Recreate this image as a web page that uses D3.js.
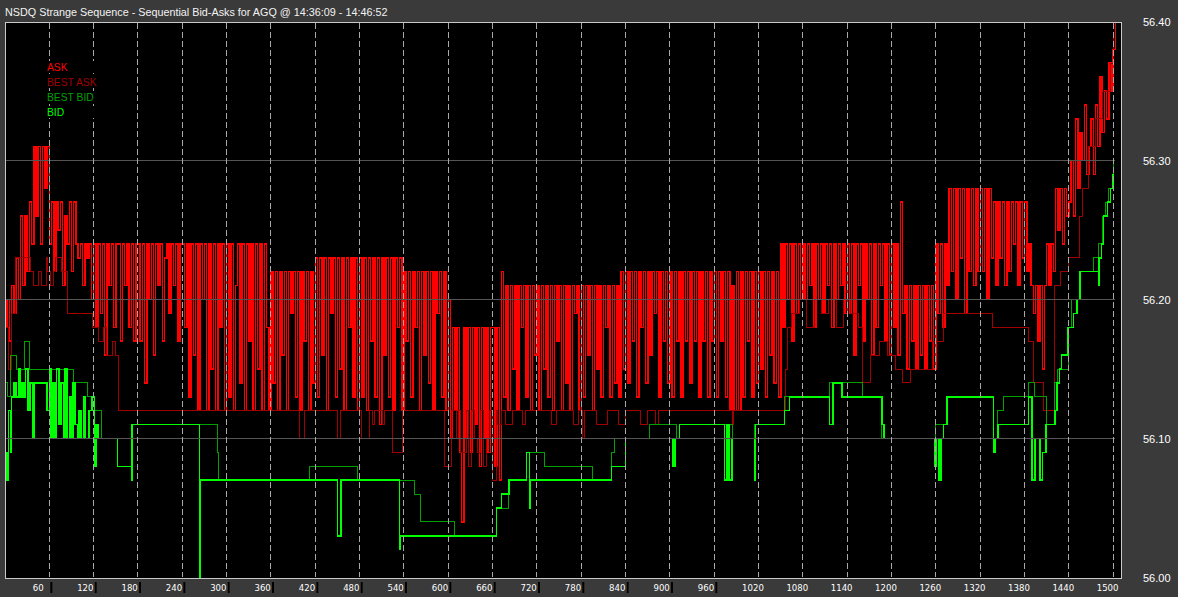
<!DOCTYPE html>
<html><head><meta charset="utf-8">
<script src="https://cdn.jsdelivr.net/npm/d3@7"></script>
<style>
html,body{margin:0;padding:0;background:#3a3a3a;overflow:hidden;}
svg{display:block;}
</style></head><body>
<svg id="chart" width="1178" height="597"></svg>
<script>
// ---------- data ----------
const TITLE = "NSDQ Strange Sequence - Sequential Bid-Asks for AGQ @ 14:36:09 - 14:46:52";
const BASE_PRICE = 56.00;           // prices below are stored as cents above this
const ASK_SEQ_STEP = 3;             // ask samples every 3 sequence numbers
const askCents = [
  18,20,17,21,19,23,20,26,21,26,22,27,24,31,26,31,24,31,28,31,
  24,27,22,27,25,27,21,26,24,27,22,27,24,23,24,21,24,23,24,20,
  24,18,24,19,24,16,24,21,24,18,24,24,17,24,21,24,18,24,17,24,
  24,17,24,14,24,20,24,16,24,21,24,17,23,24,19,24,21,24,17,24,
  24,18,24,13,24,16,24,12,24,20,24,12,24,15,24,12,24,18,24,12,
  24,13,24,12,21,24,14,24,12,24,17,24,12,24,15,24,12,24,18,12,
  22,14,22,12,22,16,22,12,22,19,22,13,22,12,22,17,22,12,22,14,
  23,13,23,16,23,12,23,19,23,13,23,15,23,12,23,18,23,13,23,12,
  23,13,23,12,23,17,23,13,23,11,23,16,23,13,23,12,23,18,23,12,
  22,17,22,13,22,18,22,12,22,16,22,14,22,12,22,19,22,13,22,12,
  20,10,18,12,18,9,4,18,10,18,9,18,11,18,8,18,10,18,9,18,
  18,8,18,7,22,13,21,12,21,15,21,12,21,18,21,13,21,12,21,16,
  21,12,21,15,21,13,21,12,21,17,21,12,21,14,21,12,21,19,21,12,
  21,13,21,16,21,12,21,15,21,13,21,18,21,13,21,14,21,13,22,15,
  22,14,22,17,22,13,22,18,22,14,22,16,22,19,22,13,22,17,22,14,
  22,13,22,17,22,13,22,17,22,14,22,17,22,13,22,17,22,13,22,17,
  22,13,22,17,22,13,22,12,21,12,22,12,22,13,22,17,22,13,22,14,
  22,15,22,13,22,16,22,14,22,13,24,18,24,20,24,17,24,19,24,20,
  24,20,24,21,24,18,24,20,24,19,24,21,24,18,24,20,24,21,24,19,
  24,19,24,16,24,21,24,17,24,20,24,16,24,18,24,21,24,17,24,16,
  24,18,24,16,27,19,21,15,21,17,21,15,21,16,21,15,21,17,21,15,
  24,19,24,18,24,21,28,22,28,20,28,23,28,19,28,22,28,21,28,22,
  28,22,28,20,28,23,27,21,27,23,27,21,27,22,27,24,27,21,27,23,
  27,22,24,21,19,21,17,21,15,21,24,21,24,22,28,25,28,24,28,26,
  27,30,26,33,28,32,30,34,29,31,33,29,34,31,36,32,35,33,37,35,
  38,40
];
// change points: [sequence number, cents above base]
const bestAsk = [
  [0,18],[5,15],[9,19],[14,23],[35,22],[39,21],[46,22],[50,21],[56,23],[58,22],[61,21],[65,22],[68,23],[76,22],
  [84,19],[118,18],[127,17],[133,18],[138,16],[145,17],[150,16],[153,12],[398,10],[405,12],[450,10],[454,12],
  [482,10],[493,12],[497,11],[500,12],[511,11],[514,12],[524,9],[538,12],[595,8],[604,12],[611,10],[614,12],
  [617,9],[624,12],[628,8],[632,12],[636,10],[640,9],[644,12],[648,8],[652,10],[656,12],[660,7],[665,12],
  [667,11],[672,12],[678,11],[687,12],[700,11],[705,12],[740,11],[746,12],[770,11],[776,12],[782,10],[785,12],
  [800,11],[815,12],[830,11],[840,12],[860,11],[870,12],[880,11],[885,12],[984,11],[986,12],[1056,15],[1059,18],
  [1065,19],[1075,20],[1085,18],[1095,20],[1105,19],[1115,20],[1125,18],[1135,20],[1145,19],[1155,18],[1161,14],
  [1171,16],[1184,17],[1194,16],[1205,15],[1215,14],[1225,15],[1256,17],[1270,19],[1336,18],[1385,17],[1392,14],
  [1405,12],[1421,21],[1428,22],[1439,23],[1455,26],[1459,28],[1466,31],[1476,33],[1486,35],[1496,37],[1500,39]
];
const bestBid = [
  [0,14],[4,13],[8,16],[15,15],[26,17],[33,15],[93,14],[111,13],[121,12],[131,10],[172,11],[287,9],[289,7],
  [412,8],[477,7],[554,6],[562,4],[608,3],[665,5],[682,7],[706,9],[730,8],[795,7],[821,9],[825,10],[873,11],
  [909,10],[913,11],[984,10],[1015,11],[1055,13],[1116,14],[1161,13],[1187,10],[1259,11],[1275,13],[1338,10],
  [1344,12],[1351,13],[1385,14],[1394,13],[1409,11],[1421,14],[1425,15],[1439,18],[1443,20],[1455,22],[1473,23],
  [1480,24],[1486,26],[1490,27],[1494,28],[1500,30]
];
const bid = [
  [0,9],[3,7],[5,12],[8,9],[9,13],[12,14],[15,13],[18,15],[20,13],[23,14],[26,13],[28,15],[31,12],[34,14],
  [37,10],[39,14],[57,12],[60,15],[62,10],[65,14],[68,10],[70,15],[73,11],[76,14],[79,10],[81,15],[84,10],
  [87,13],[89,10],[92,14],[95,11],[98,10],[100,12],[103,10],[106,13],[108,10],[114,12],[118,13],[121,8],
  [123,11],[126,10],[152,8],[171,7],[172,11],[263,0],[264,7],[450,3],[455,7],[534,2],[535,3],[665,5],[672,6],
  [682,7],[706,9],[710,5],[711,7],[821,8],[840,10],[904,8],[907,10],[913,11],[974,7],[977,11],[980,7],[984,10],
  [1015,7],[1016,11],[1055,12],[1062,13],[1116,11],[1121,14],[1133,13],[1187,11],[1190,10],[1259,8],[1261,10],
  [1264,7],[1267,10],[1270,11],[1275,13],[1338,9],[1340,10],[1344,11],[1385,13],[1390,7],[1394,10],[1401,7],
  [1404,9],[1409,11],[1421,12],[1424,14],[1427,15],[1430,16],[1439,18],[1446,19],[1451,20],[1455,22],[1480,21],
  [1481,23],[1484,24],[1487,26],[1492,27],[1496,28],[1500,29]
];
const seriesNames = ["ASK","BEST ASK","BEST BID","BID"];
const xTicks = [60,120,180,240,300,360,420,480,540,600,660,720,780,840,900,960,1020,1080,1140,1200,1260,1320,1380,1440,1500];
const yTicks = [56.00,56.10,56.20,56.30,56.40];
const yGrid = [56.10,56.20,56.30];
const X_DOMAIN = [0,1510.5];
const Y_DOMAIN = [56.00,56.40];

// ---------- style ----------
const COLORS = {"ASK":"#ff0000","BEST ASK":"#a00000","BEST BID":"#00a000","BID":"#00ff00"};
const WIDTHS = {"ASK":1.5,"BEST ASK":1,"BEST BID":1,"BID":1.5};
const BG = "#3a3a3a";
const FONT = "'Liberation Sans', Arial, sans-serif";
const NARROW = "'Liberation Sans Narrow', 'Arial Narrow', 'DejaVu Sans Condensed', 'Liberation Sans', sans-serif";

// ---------- drawing ----------
const svg = d3.select("#chart");
const P = {left:5, top:22, right:1121, bottom:578};
const x = d3.scaleLinear().domain(X_DOMAIN).range([P.left, P.right]);
const y = d3.scaleLinear().domain(Y_DOMAIN).range([577.5, 21.5]);

svg.append("rect").attr("width",1178).attr("height",597).attr("fill",BG);
svg.append("text").attr("x",5).attr("y",16).attr("fill","#f2f2f2")
  .attr("font-family",FONT).attr("font-size",10.8).text(TITLE);

svg.append("rect").attr("x",P.left).attr("y",P.top).attr("width",P.right-P.left).attr("height",P.bottom-P.top).attr("fill","#000");

const toPrice = c => BASE_PRICE + c/100;
const askData = askCents.map((c,i)=>[i*ASK_SEQ_STEP, toPrice(c)]);
const cp = arr => arr.map(d=>[d[0], toPrice(d[1])]);
const seriesData = {"ASK":askData,"BEST ASK":cp(bestAsk),"BEST BID":cp(bestBid),"BID":cp(bid)};

const line = d3.line().x(d=>x(d[0])).y(d=>y(d[1])).curve(d3.curveStepAfter);
const gData = svg.append("g");
seriesNames.forEach(n=>{
  gData.append("path").datum(seriesData[n]).attr("d",line)
    .attr("fill","none").attr("stroke",COLORS[n]).attr("stroke-width",WIDTHS[n])
    .attr("shape-rendering","crispEdges");
});

// grid (drawn over the data)
const gGrid = svg.append("g").attr("shape-rendering","crispEdges");
gGrid.selectAll("line.h").data(yGrid).join("line").attr("class","h")
  .attr("x1",P.left+1).attr("x2",1115).attr("y1",d=>y(d)).attr("y2",d=>y(d))
  .attr("stroke","#555555").attr("stroke-width",1);
gGrid.selectAll("line.v").data(xTicks).join("line").attr("class","v")
  .attr("x1",d=>x(d)).attr("x2",d=>x(d)).attr("y1",P.top+1).attr("y2",P.bottom-1)
  .attr("stroke","#a8a8a8").attr("stroke-width",1).attr("stroke-dasharray","6,3");

// legend
const gLeg = svg.append("g").attr("font-family",FONT).attr("font-size",10.3);
seriesNames.forEach((n,i)=>{
  gLeg.append("rect").attr("x",45).attr("y",61+i*15).attr("width",54).attr("height",12).attr("fill","#000");
  gLeg.append("text").attr("x",47).attr("y",71+i*15).attr("fill",COLORS[n]).text(n);
});

// border
svg.append("rect").attr("x",P.left+0.5).attr("y",P.top+0.5).attr("width",P.right-P.left).attr("height",P.bottom-P.top-0.5)
  .attr("fill","none").attr("stroke","#c8c8c8").attr("stroke-width",1).attr("shape-rendering","crispEdges");

// bottom axis
const gx = svg.append("g").attr("transform","translate(0,582)")
  .call(d3.axisBottom(x).tickValues(xTicks).tickSize(11).tickFormat(d3.format("d")));
gx.select(".domain").remove();
gx.selectAll(".tick line").attr("stroke","#000").attr("stroke-width",2).attr("x1",1.5).attr("x2",1.5);
gx.selectAll(".tick text").attr("fill","#ffffff").attr("font-family",NARROW).attr("font-size",9.5)
  .attr("text-anchor","start").attr("x",-17).attr("y",2.5).attr("dy","0.71em");
gx.selectAll(".tick").each(function(){
  const t = d3.select(this).select("text");
  const b = t.node().getBBox();
  d3.select(this).insert("rect","text").attr("x",b.x-1).attr("y",b.y).attr("width",b.width+2).attr("height",b.height).attr("fill",BG);
});

// right axis
const gy = svg.append("g").attr("transform","translate(1143,0)")
  .call(d3.axisRight(y).tickValues(yTicks).tickSize(0).tickPadding(0).tickFormat(d3.format(".2f")));
gy.select(".domain").remove();
gy.selectAll(".tick text").attr("fill","#ffffff").attr("font-family",FONT).attr("font-size",11);
</script>
</body></html>
